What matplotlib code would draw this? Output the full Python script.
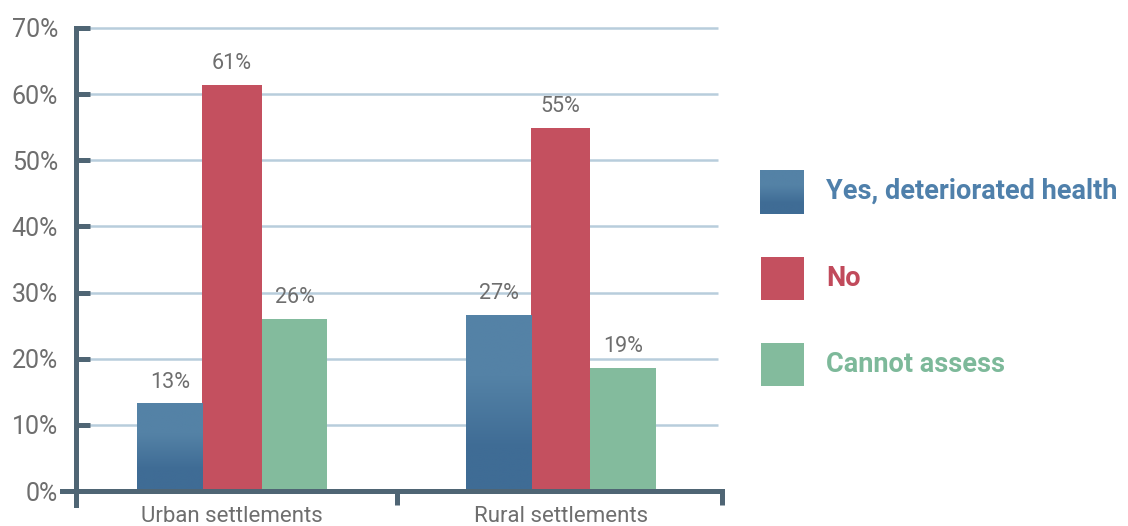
import matplotlib.pyplot as plt
import numpy as np
from matplotlib.colors import to_rgb
from matplotlib.patches import Rectangle

categories = ["Urban settlements", "Rural settlements"]
series_names = ["Yes, deteriorated health", "No", "Cannot assess"]
yes_values = [13.2, 26.6]
no_values = [61.4, 54.9]
cannot_values = [26.0, 18.6]
y_ticks = [0, 10, 20, 30, 40, 50, 60, 70]

BLUE_TOP = "#5482a6"
BLUE_BOTTOM = "#3f6c95"
RED = "#c4505f"
GREEN = "#83bb9d"
AXIS = "#4f6574"
GRID = "#b8cddc"
TEXT = "#6e6e6e"
LEGEND_TEXT = ["#4f80ab", "#c14a5b", "#7db99a"]

plt.rcParams["font.family"] = ["Roboto", "DejaVu Sans"]

W, H = 1128, 526


def blue_gradient(n=256):
    # light upper part fading into a darker base
    t = np.linspace(0, 1, n)
    mix = np.clip((t - 0.25) / 0.4, 0, 1)[:, None]
    lo = np.array(to_rgb(BLUE_BOTTOM))
    hi = np.array(to_rgb(BLUE_TOP))
    return (lo + (hi - lo) * mix)[:, None, :]


fig = plt.figure(figsize=(W / 100, H / 100), dpi=100)
ax = fig.add_axes([62 / W, 21 / H, (725 - 62) / W, 479 / H])

x = np.arange(len(categories))
offsets = [-0.189, 0.0, 0.19]
widths = [0.2, 0.18, 0.2]
series = [yes_values, no_values, cannot_values]
colors = [BLUE_BOTTOM, RED, GREEN]

grad = blue_gradient()
for i, vals in enumerate(series):
    bars = ax.bar(x + offsets[i], vals, width=widths[i], color=colors[i],
                  linewidth=0, zorder=3)
    for b, v in zip(bars, vals):
        if i == 0:
            x0 = b.get_x()
            ax.imshow(grad, extent=(x0, x0 + b.get_width(), 0, v), origin="lower",
                      aspect="auto", interpolation="bilinear", zorder=3.5)
        ax.annotate(f"{v:.0f}%", (b.get_x() + b.get_width() / 2, v),
                    xytext=(0, 8), textcoords="offset points",
                    ha="center", va="bottom", fontsize=15.5, color=TEXT)

left_x = -0.4749
ax.hlines(y_ticks[1:], left_x, 1.479, color=GRID, linewidth=1.8, zorder=1)

ax.set_xlim(-0.5175, 1.5)
ax.set_ylim(-2.1, 70.3)

for side in ["top", "right"]:
    ax.spines[side].set_visible(False)
ax.spines["left"].set_position(("data", left_x))
ax.spines["left"].set_bounds(-2.1, 70)
ax.spines["bottom"].set_position(("data", 0))
ax.spines["bottom"].set_bounds(-0.5175, 1.4916)
for side in ["left", "bottom"]:
    ax.spines[side].set_color(AXIS)
    ax.spines[side].set_linewidth(3.6)
    ax.spines[side].set_zorder(4)

ax.set_yticks(y_ticks)
ax.set_yticklabels([f"{v}%" for v in y_ticks])
ax.tick_params(axis="y", direction="in", length=10, width=3.6, color=AXIS,
               pad=13, labelsize=18, labelcolor=TEXT)

ax.set_xticks(x)
ax.set_xticklabels(categories)
ax.set_xticks([0.502, 1.4916], minor=True)
ax.tick_params(axis="x", which="major", length=0, pad=11, labelsize=16,
               labelcolor=TEXT)
ax.tick_params(axis="x", which="minor", direction="out", length=10, width=3.6,
               color=AXIS)

# legend drawn in pixel coordinates on an overlay axes
lax = fig.add_axes([0, 0, 1, 1])
lax.set_xlim(0, W)
lax.set_ylim(H, 0)
lax.axis("off")
lax.patch.set_alpha(0)

swatch_tops = [170, 257, 343]
for i, name in enumerate(series_names):
    top = swatch_tops[i]
    if i == 0:
        lax.imshow(grad, extent=(760, 804, top + 44, top), origin="lower",
                   aspect="auto", interpolation="bilinear")
    else:
        lax.add_patch(Rectangle((761, top), 43, 43, color=colors[i], linewidth=0))
    lax.text(826, top + 21, name, color=LEGEND_TEXT[i], fontsize=19.5,
             fontweight="bold", va="center", ha="left")
lax.set_xlim(0, W)
lax.set_ylim(H, 0)

fig.savefig("out.png", dpi=100)
